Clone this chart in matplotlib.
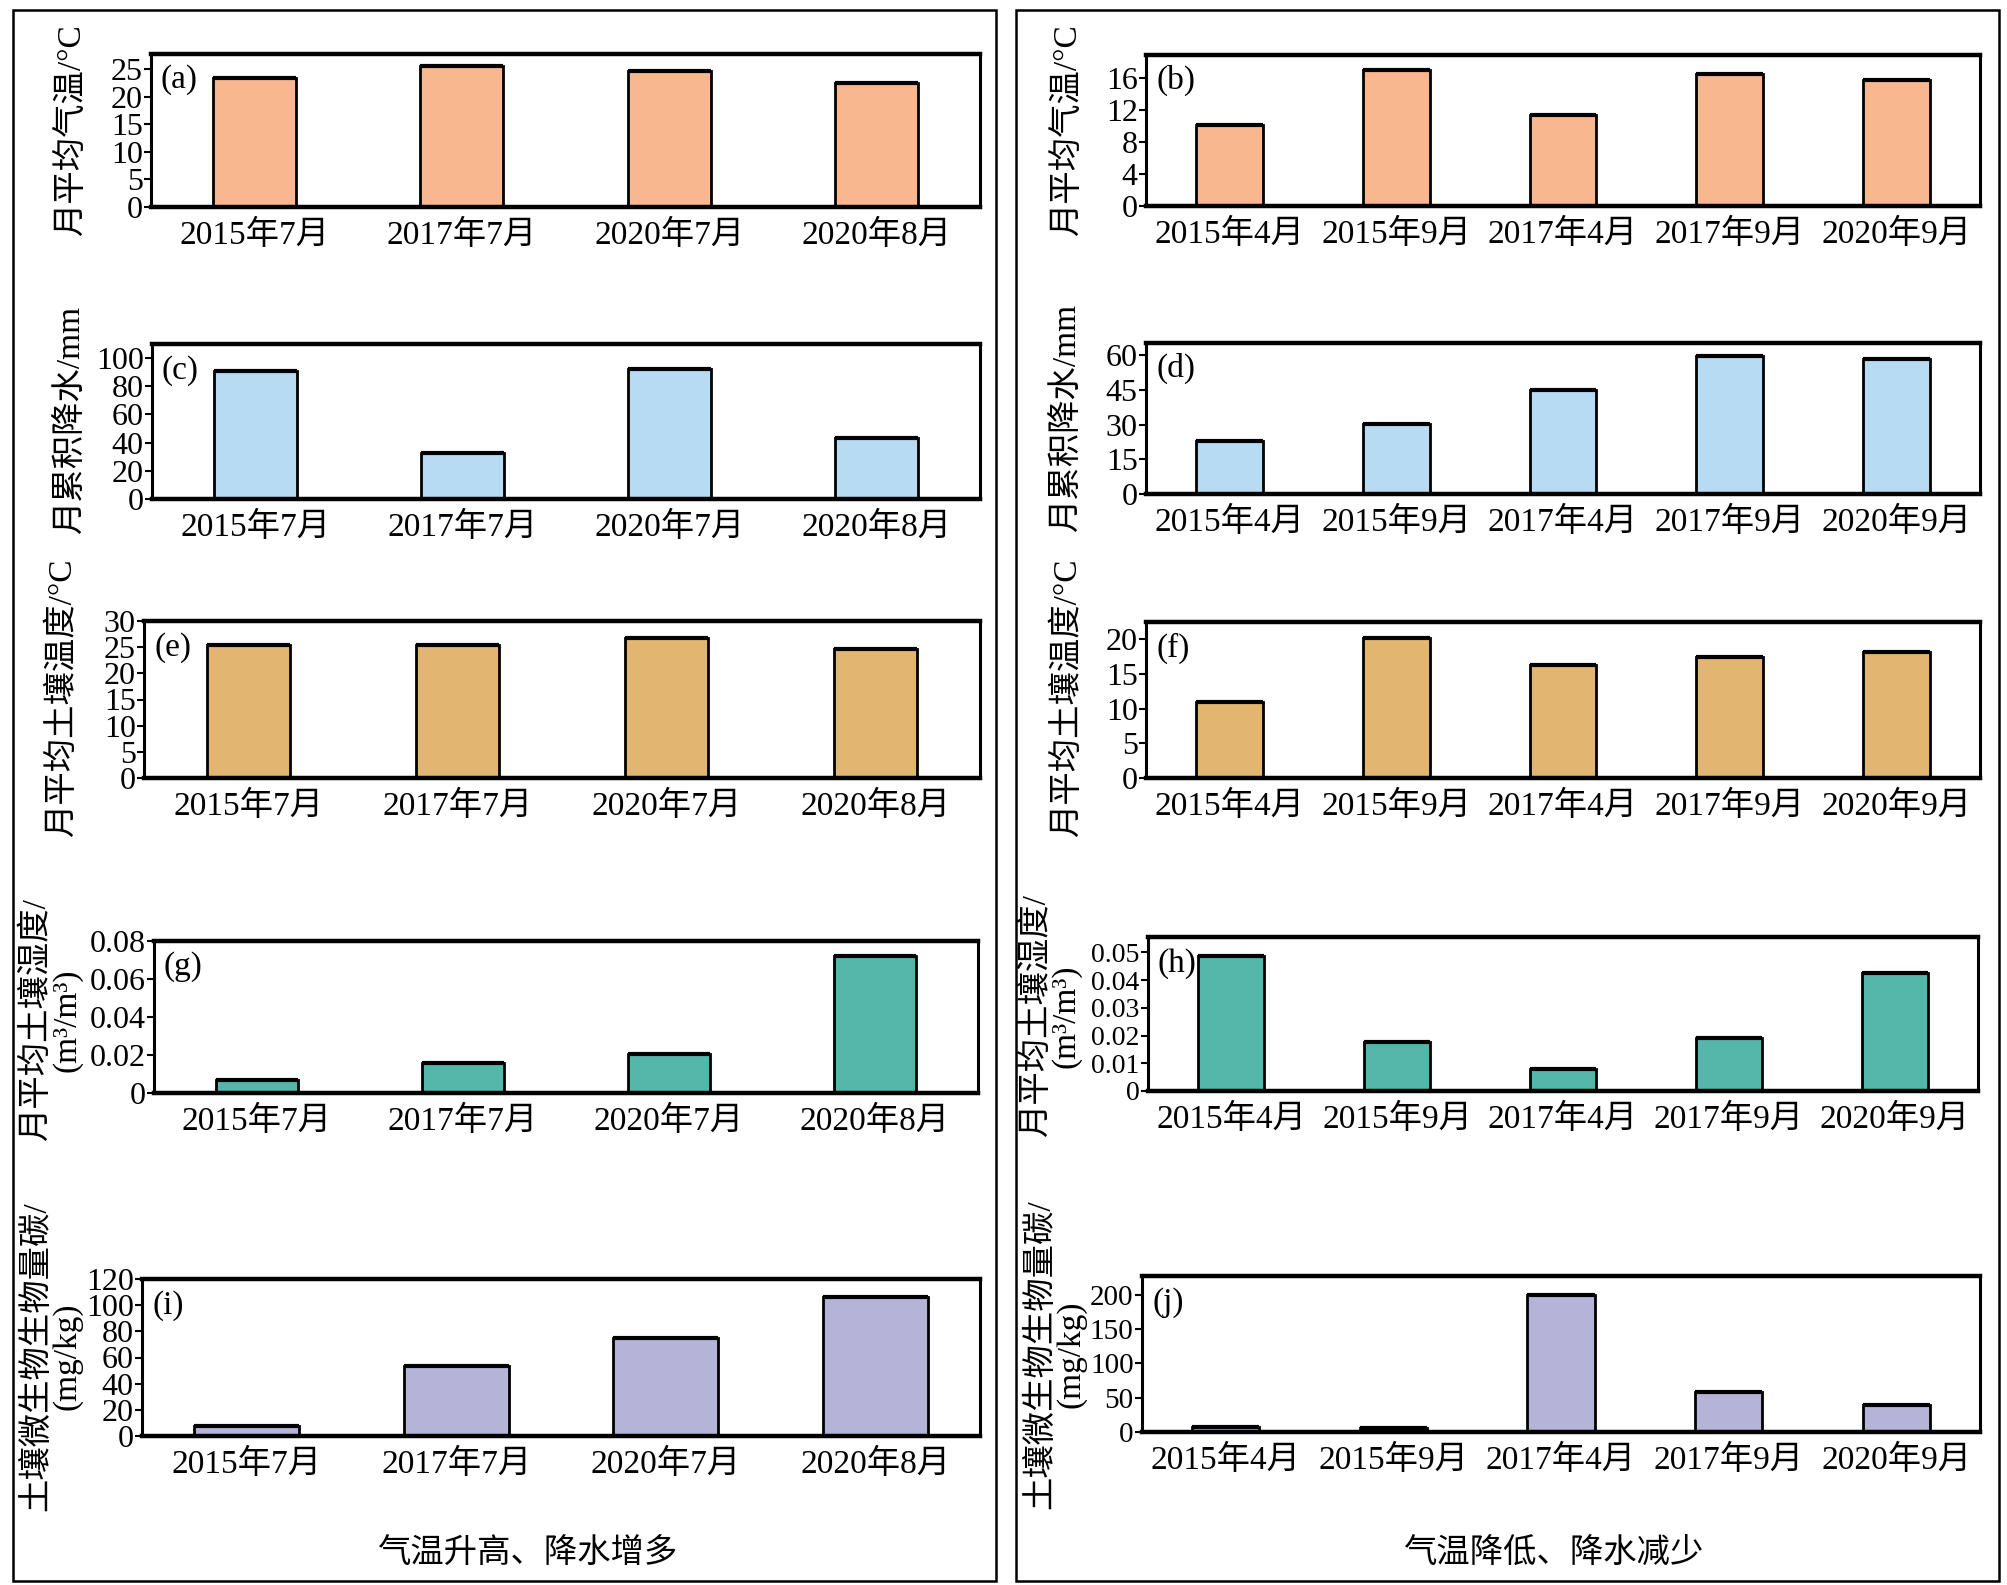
import numpy as np
import matplotlib
matplotlib.use('Agg')
import matplotlib.pyplot as plt
from matplotlib.patches import Rectangle

plt.rcParams['font.family'] = ['Liberation Serif', 'Noto Sans CJK SC', 'DejaVu Sans']
plt.rcParams['axes.unicode_minus'] = False

# 类别
months_up = ['2015年7月', '2017年7月', '2020年7月', '2020年8月']
months_down = ['2015年4月', '2015年9月', '2017年4月', '2017年9月', '2020年9月']

# 数据 (左: 气温升高、降水增多; 右: 气温降低、降水减少)
air_temp_up = [23.4, 25.5, 24.7, 22.4]
air_temp_down = [10.2, 17.0, 11.4, 16.5, 15.8]
precip_up = [91.0, 32.8, 92.4, 43.6]
precip_down = [23.1, 30.4, 44.7, 59.5, 58.2]
soil_temp_up = [25.4, 25.4, 26.7, 24.7]
soil_temp_down = [10.9, 20.2, 16.3, 17.4, 18.2]
soil_moist_up = [0.0071, 0.0156, 0.0204, 0.0722]
soil_moist_down = [0.0488, 0.0176, 0.0080, 0.0190, 0.0427]
mbc_up = [7.6, 53.7, 75.0, 106.4]
mbc_down = [7.3, 5.4, 199.5, 57.9, 39.4]

W, H = 2008, 1585
fig = plt.figure(figsize=(W / 100, H / 100), dpi=100)

FS = 24
c_air = '#F8B78F'
c_pre = '#B6DBF2'
c_st = '#E2B670'
c_sm = '#55B7A9'
c_mbc = '#B5B4D8'


def px_axes(x0, y0, x1, y1):
    return fig.add_axes([x0 / W, 1 - y1 / H, (x1 - x0) / W, (y1 - y0) / H])


def panel(box, cats, vals, color, ticks, ticklabels, ytop, tag, width=0.4, yfs=FS - 1):
    ax = px_axes(*box)
    x = np.arange(len(cats))
    ax.bar(x, vals, width=width, color=color, edgecolor='black', linewidth=2.0, zorder=2)
    ax.hlines(vals, x - width / 2, x + width / 2, colors='black', linewidth=3.0, zorder=3)
    ax.set_xlim(-0.5, len(cats) - 0.5)
    ax.set_ylim(0, ytop)
    ax.set_xticks(x)
    ax.set_xticklabels(cats, fontsize=FS)
    ax.set_yticks(ticks)
    ax.set_yticklabels(ticklabels, fontsize=yfs)
    ax.tick_params(axis='x', length=0, pad=9)
    ax.tick_params(axis='y', length=5, width=1.5, pad=1, direction='out')
    for s in ['top', 'bottom']:
        ax.spines[s].set_linewidth(3.2)
    for s in ['left', 'right']:
        ax.spines[s].set_linewidth(2.2)
    ax.text(0.012, 0.83, tag, transform=ax.transAxes, fontsize=FS, va='center', ha='left')
    return ax


def ylab(xpx, ycpx, s):
    fig.text(xpx / W, 1 - ycpx / H, s, rotation=90, ha='center', va='center', fontsize=FS)


# (a)(b)
panel((151, 54, 980, 207), months_up, air_temp_up, c_air,
      [0, 5, 10, 15, 20, 25], ['0', '5', '10', '15', '20', '25'], 27.7, '(a)')
panel((1146, 55, 1980, 206), months_down, air_temp_down, c_air,
      [0, 4, 8, 12, 16], ['0', '4', '8', '12', '16'], 18.9, '(b)')
ylab(71, 130, '月平均气温/°C')
ylab(1067, 130, '月平均气温/°C')

# (c)(d)
panel((152, 344, 980, 499), months_up, precip_up, c_pre,
      [0, 20, 40, 60, 80, 100], ['0', '20', '40', '60', '80', '100'], 110, '(c)')
panel((1146, 343, 1980, 494), months_down, precip_down, c_pre,
      [0, 15, 30, 45, 60], ['0', '15', '30', '45', '60'], 65.2, '(d)')
ylab(71, 420, '月累积降水/mm')
ylab(1067, 418, '月累积降水/mm')

# (e)(f)
panel((144, 621, 980, 778), months_up, soil_temp_up, c_st,
      [0, 5, 10, 15, 20, 25, 30], ['0', '5', '10', '15', '20', '25', '30'], 30, '(e)')
panel((1146, 622, 1980, 778), months_down, soil_temp_down, c_st,
      [0, 5, 10, 15, 20], ['0', '5', '10', '15', '20'], 22.5, '(f)')
ylab(62, 698, '月平均土壤温度/°C')
ylab(1067, 698, '月平均土壤温度/°C')

# (g)(h)
panel((154, 941, 978, 1093), months_up, soil_moist_up, c_sm,
      [0, 0.02, 0.04, 0.06, 0.08], ['0', '0.02', '0.04', '0.06', '0.08'], 0.08, '(g)')
panel((1148, 937, 1978, 1091), months_down, soil_moist_down, c_sm,
      [0, 0.01, 0.02, 0.03, 0.04, 0.05], ['0', '0.01', '0.02', '0.03', '0.04', '0.05'],
      0.0555, '(h)', yfs=20)
ylab(36, 1020, '月平均土壤湿度/')
ylab(67, 1020, '(m³/m³)')
ylab(1036, 1016, '月平均土壤湿度/')
ylab(1066, 1016, '(m³/m³)')

# (i)(j)
panel((142, 1279, 980, 1436), months_up, mbc_up, c_mbc,
      [0, 20, 40, 60, 80, 100, 120], ['0', '20', '40', '60', '80', '100', '120'], 120,
      '(i)', width=0.5)
panel((1142, 1276, 1980, 1432), months_down, mbc_down, c_mbc,
      [0, 50, 100, 150, 200], ['0', '50', '100', '150', '200'], 227, '(j)', yfs=21)
ylab(36, 1356, '土壤微生物生物量碳/')
ylab(67, 1356, '(mg/kg)')
ylab(1040, 1354, '土壤微生物生物量碳/')
ylab(1071, 1354, '(mg/kg)')

# 底部说明
fig.text(527 / W, 1 - 1553 / H, '气温升高、降水增多', ha='center', va='center', fontsize=FS)
fig.text(1553 / W, 1 - 1553 / H, '气温降低、降水减少', ha='center', va='center', fontsize=FS)

# 外框
for x0, x1 in [(13, 996), (1016, 1999)]:
    fig.patches.append(Rectangle((x0 / W, 1 - 1581 / H), (x1 - x0) / W, (1581 - 10) / H,
                                 transform=fig.transFigure, fill=False,
                                 edgecolor='black', linewidth=1.8))

fig.savefig('out.png', dpi=100)
